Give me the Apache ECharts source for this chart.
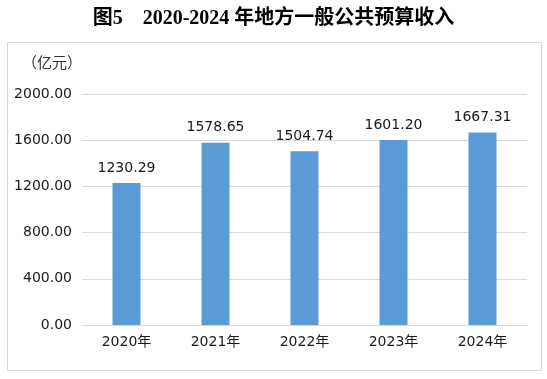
<!DOCTYPE html>
<html><head><meta charset="utf-8">
<script src="https://cdn.jsdelivr.net/npm/echarts@6/dist/echarts.min.js"></script>
<style>html,body{margin:0;padding:0;background:#fff}#c{width:547px;height:379px}</style>
</head><body><div id="c"></div>
<script>
const categories = ['2020年','2021年','2022年','2023年','2024年'];
const values = [1230.29, 1578.65, 1504.74, 1601.20, 1667.31];
const yTicks = [0, 400, 800, 1200, 1600, 2000];
const titleText = '图5　2020-2024 年地方一般公共预算收入';
const unitText = '（亿元）';

const chart = echarts.init(document.getElementById('c'));
const font = 'DejaVu Sans, Noto Sans CJK SC, sans-serif';
chart.setOption({
  animation: false,
  title: {
    text: titleText, left: 'center', top: 4,
    textStyle: {fontFamily: 'Liberation Serif, Noto Sans CJK SC, serif', fontWeight: 'bold', fontSize: 20, color: '#000'}
  },
  graphic: [
    {type: 'rect', shape: {x: 7.5, y: 42.5, width: 534, height: 328}, style: {fill: 'none', stroke: '#d9d9d9', lineWidth: 1}},
    {type: 'text', left: 22, top: 55, style: {text: unitText, fontFamily: '"Noto Sans CJK SC"', fontSize: 15, fill: '#333'}}
  ],
  grid: {left: 82, right: 20, top: 94, bottom: 54, containLabel: false},
  xAxis: {
    type: 'category', data: categories,
    axisLine: {lineStyle: {color: '#d9d9d9'}},
    axisTick: {show: false},
    axisLabel: {fontFamily: font, fontSize: 14, color: '#1a1a1a', margin: 10}
  },
  yAxis: {
    type: 'value', min: yTicks[0], max: yTicks[yTicks.length-1], interval: 400,
    axisLine: {show: false}, axisTick: {show: false},
    splitLine: {lineStyle: {color: '#d9d9d9'}},
    axisLabel: {fontFamily: font, fontSize: 14, color: '#1a1a1a', margin: 10, formatter: v => v.toFixed(2)}
  },
  series: [{
    type: 'bar', data: values, barWidth: 28,
    itemStyle: {color: '#5b9bd5'},
    label: {show: true, position: 'top', distance: 8, fontFamily: font, fontSize: 14, color: '#1a1a1a', formatter: p => p.value.toFixed(2)}
  }]
});
</script></body></html>
